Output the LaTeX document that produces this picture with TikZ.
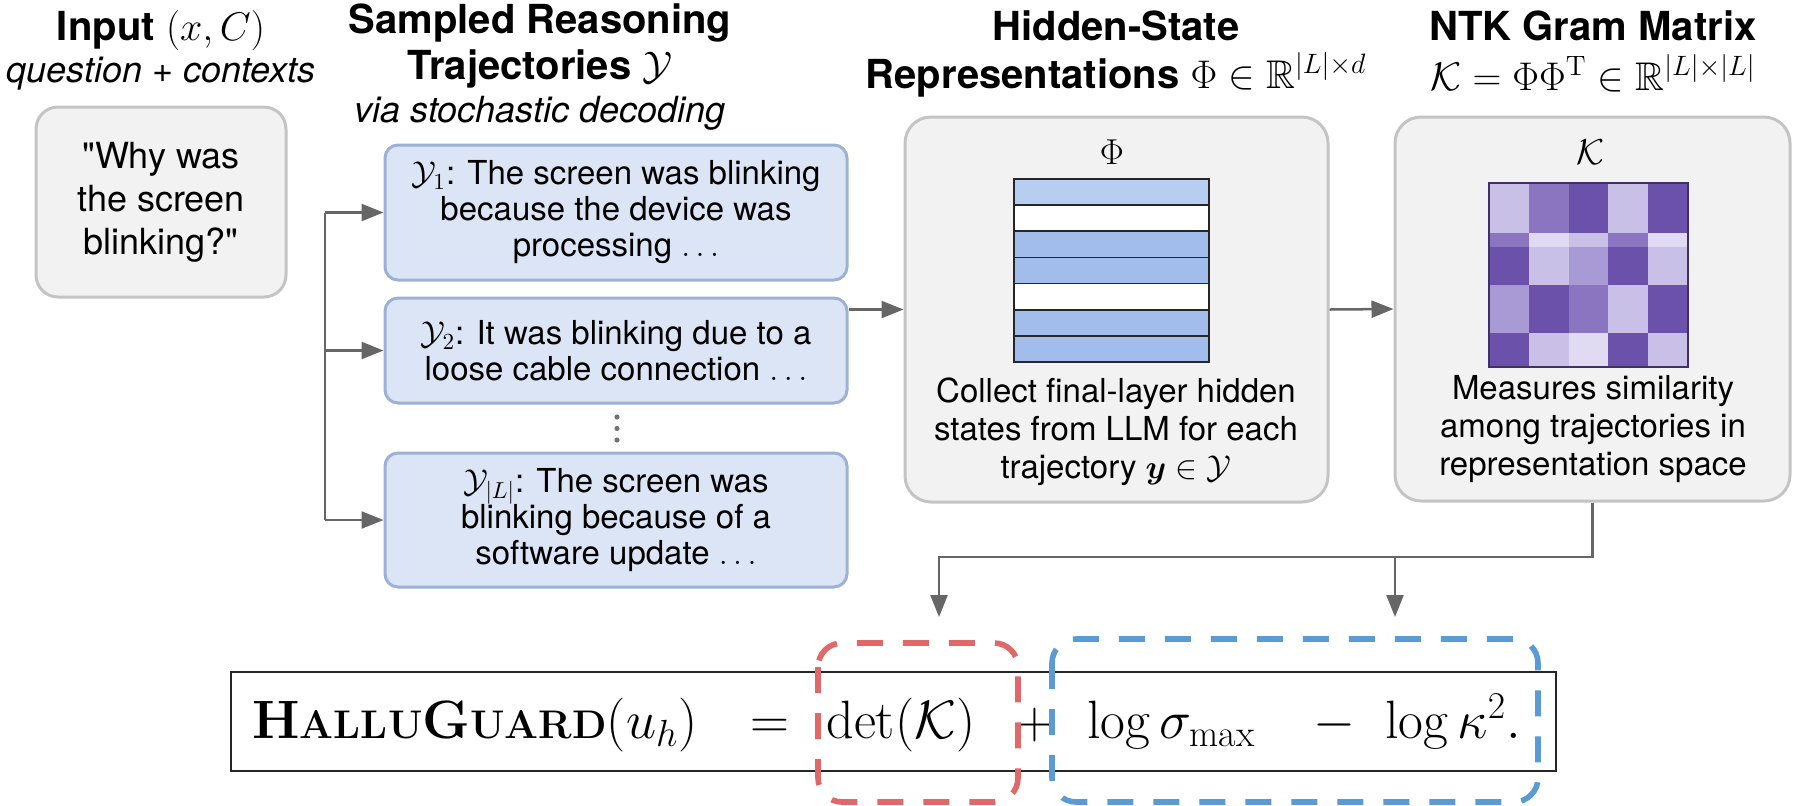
\documentclass[tikz,border=0pt]{standalone}
\usepackage{fix-cm}
\usepackage{amsmath}
\usepackage{amssymb}
\usepackage{fontspec}
\setsansfont{TeX Gyre Heros}
\usepackage{tikz}
\usetikzlibrary{arrows.meta,positioning}
\definecolor{hpanelf}{HTML}{F2F2F2}
\definecolor{hpaneld}{HTML}{C4C4C4}
\definecolor{htrajf}{HTML}{DCE5F6}
\definecolor{htrajd}{HTML}{9CB1D5}
\definecolor{hphi}{HTML}{A2BDEB}
\definecolor{hphitop}{HTML}{B7CEF2}
\definecolor{hlinkc}{HTML}{666666}
\definecolor{hredc}{HTML}{E06868}
\definecolor{hbluec}{HTML}{5B9BD5}
\definecolor{kdark}{HTML}{6B51A9}
\definecolor{kmid}{HTML}{8B75C1}
\definecolor{kmlt}{HTML}{A99AD6}
\definecolor{klt}{HTML}{C9C0E7}
\definecolor{kpale}{HTML}{E0DAF3}
\newcommand{\hgname}{{\rmfamily\bfseries\fontsize{27}{30}\selectfont H\fontsize{20}{30}\selectfont ALLU\fontsize{27}{30}\selectfont G\fontsize{20}{30}\selectfont UARD}}
\tikzset{
  >={Triangle[length=11pt, width=8.5pt]},
  httl/.style={font=\sffamily\bfseries\fontsize{20}{24}\selectfont, anchor=base, inner sep=0pt},
  hsub/.style={font=\sffamily\itshape\fontsize{18}{22}\selectfont, anchor=base, inner sep=0pt},
  hpanel/.style={rounded corners=13pt, draw=hpaneld, fill=hpanelf, line width=1.5pt,
                 inner sep=0pt},
  hinput/.style={hpanel, rounded corners=11pt, align=center,
                 font=\sffamily\fontsize{18}{21.5}\selectfont},
  htraj/.style={rounded corners=6.5pt, draw=htrajd, fill=htrajf, line width=1.5pt,
                minimum width=231pt, inner sep=0pt, align=center,
                font=\sffamily\fontsize{16.5}{18}\selectfont},
  hdesc/.style={align=center, inner sep=0pt, font=\sffamily\fontsize{16.5}{19}\selectfont},
  hlbl/.style={inner sep=0pt, font=\fontsize{18}{20}\selectfont},
  hgrid/.style={draw=black!85, line width=0.8pt},
  hlink/.style={draw=hlinkc, line width=1.25pt},
  hflow/.style={->, hlink},
  hform/.style={draw=black!85, line width=1.3pt},
  hmath/.style={inner sep=0pt, anchor=base west, font=\fontsize{27}{30}\selectfont},
  hred/.style={draw=hredc, line width=2.8pt, rounded corners=12pt,
               dash pattern=on 13pt off 10pt},
  hblue/.style={draw=hbluec, line width=2.8pt, rounded corners=12pt,
                dash pattern=on 13pt off 10pt},
}

\begin{document}
\begin{tikzpicture}[x=0.5pt,y=-0.5pt]
  \useasboundingbox (0,0) rectangle (1794,805);

  % column titles
  \node[httl] (tin) at (161,40) {Input $(x, C)$};
  \node[hsub] (tins) at (161,82) {question + contexts};
  \node[httl] (tys1) at (540,33) {Sampled Reasoning};
  \node[httl] (tys2) at (540,79) {Trajectories $\mathcal{Y}$};
  \node[hsub] (tys3) at (540,122) {via stochastic decoding};
  \node[httl] (ths1) at (1116,40) {Hidden-State};
  \node[httl] (ths2) at (1116,88) {Representations $\Phi\in\mathbb{R}^{|L|\times d}$};
  \node[httl] (tk1) at (1593,40) {NTK Gram Matrix};
  \node[httl] (tk2) at (1593,90) {$\mathcal{K}=\Phi\Phi^{\mathrm{T}}\in\mathbb{R}^{|L|\times|L|}$};

  % input and trajectories
  \node[hinput, minimum width=125pt, minimum height=95pt] (inp) at (161,202)
    {\textquotedbl Why was\\the screen\\blinking?\textquotedbl};
  \node[htraj, minimum height=67.5pt] (b1) at (616,212.5)
    {$\mathcal{Y}_1$: The screen was blinking\\because the device was\\processing $\ldots$};
  \node[htraj, minimum height=52.5pt] (b2) at (616,350.5)
    {$\mathcal{Y}_2$: It was blinking due to a\\loose cable connection $\ldots$};
  \node[htraj, minimum height=67pt] (b3) at (616,520)
    {$\mathcal{Y}_{|L|}$: The screen was\\blinking because of a\\software update $\ldots$};
  \foreach \d in {417,428.5,440}
    \fill[black!55] (617,\d) circle (1.3pt);

  % hidden states
  \node[hpanel, minimum width=211.5pt, minimum height=192.5pt] (hid) at (1116.5,309.5) {};
  \node[hlbl] (philbl) at (1112,152) {$\Phi$};
  \foreach \r/\c in {0/hphitop,1/white,2/hphi,3/hphi,4/white,5/hphi,6/hphi}
    \fill[\c] (1014,179+\r*26.14) rectangle (1209,205.14+\r*26.14);
  \foreach \r in {1,...,6}
    \draw[hgrid] (1014,179+\r*26.14) -- (1209,179+\r*26.14);
  \draw[hgrid] (1014,179) rectangle (1209,362);
  \node[hdesc] (phitxt) at (1116,432)
    {Collect final-layer hidden\\states from LLM for each\\trajectory $\boldsymbol{y}\in\mathcal{Y}$};

  % gram matrix
  \node[hpanel, minimum width=197.5pt, minimum height=192pt] (ntk) at (1592.5,309) {};
  \node[hlbl] (klbl) at (1590,152) {$\mathcal{K}$};
  \foreach \ya/\yb/\cs in {183/233/{klt,kmid,kdark,klt,kdark},
                           233/247/{kmid,kpale,klt,kmid,kpale},
                           247/285/{kdark,klt,kmlt,kdark,klt},
                           285/333/{kmlt,kdark,kmid,klt,kdark},
                           333/367/{kdark,klt,kpale,kdark,klt}}
    \foreach \c [count=\j from 0] in \cs
      \fill[\c] (1489+\j*39.8,\ya) rectangle (1528.8+\j*39.8,\yb);
  \draw[draw=kdark!60!black, line width=1pt] (1489,183) rectangle (1688,367);
  \node[hdesc] (ktxt) at (1593,429)
    {Measures similarity\\among trajectories in\\representation space};

  % connectors
  \coordinate (trk) at (325,0);
  \draw[hlink] (b1.west -| trk) -- (b3.west -| trk);
  \foreach \b in {b1,b2,b3}
    \draw[hflow] (\b.west -| trk) -- (\b.west);
  \draw[hflow] (hid.west -| b2.east) -- (hid.west);
  \draw[hflow] (hid.east) -- (ntk.west);
  \coordinate (bend) at (939,557);
  \coordinate (dtip) at (939,617);
  \coordinate (ltip) at (1395,617);
  \draw[hflow] (ntk.south) |- (bend) -- (dtip);
  \draw[hflow] (ltip |- bend) -- (ltip);

  % score
  \draw[hform] (231,672) rectangle (1556,771);
  \node[hmath] (hg) at (252,738) {\hgname$(u_h)$};
  \node[hmath, anchor=base] (eq) at (770,738) {$=$};
  \node[hmath] (det) at (826,738) {$\det(\mathcal{K})$};
  \node[hmath, anchor=base] (plus) at (1035,738) {$+$};
  \node[hmath] (lsig) at (1087,738) {$\log\sigma_{\max}$};
  \node[hmath, anchor=base] (minus) at (1334,738) {$-$};
  \node[hmath] (lkap) at (1385,738) {$\log\kappa^2.$};
  \draw[hred] (818,643) rectangle (1018,802);
  \draw[hblue] (1052,639) rectangle (1538,802);

\end{tikzpicture}
\end{document}
